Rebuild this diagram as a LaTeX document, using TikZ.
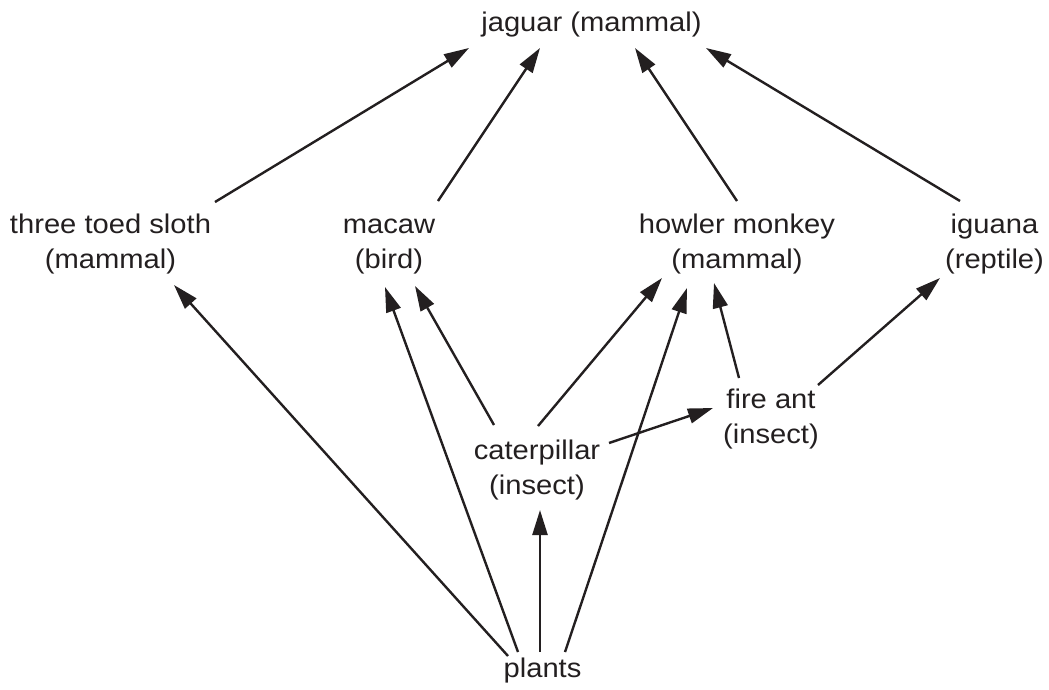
\documentclass[tikz,border=0pt]{standalone}
\usepackage{fontspec}
\setmainfont{Liberation Sans}[FakeStretch=1.08]
\usetikzlibrary{arrows.meta,calc}
\definecolor{ink}{RGB}{35,31,32}
\tikzset{
  lbl/.style={inner sep=0pt, align=center, text=ink, font=\fontsize{27}{35}\selectfont},
  arr/.style={draw=ink, line width=2.4pt, -{Triangle[length=25pt,width=15pt]}}
}
\begin{document}
\begin{tikzpicture}[x=1pt,y=-1pt]
\useasboundingbox (0,0) rectangle (1049,689);
\node[lbl] (jag) at (591.5,24) {\strut jaguar (mammal)};
\node[lbl] (sloth) at (110.5,243.5) {\strut three toed sloth\\\strut (mammal)};
\node[lbl] (macaw) at (389,243.5) {\strut macaw\\\strut (bird)};
\node[lbl] (howler) at (737,243.5) {\strut howler monkey\\\strut (mammal)};
\node[lbl] (iguana) at (994.5,243.5) {\strut iguana\\\strut (reptile)};
\node[lbl] (cat) at (537,469.5) {\strut caterpillar\\\strut (insect)};
\node[lbl] (ant) at (771,418.5) {\strut fire ant\\\strut (insect)};
\node[lbl] (plants) at (542.5,670) {\strut plants};

\draw[arr] ($(sloth)+(104.5,-41.5)$) -- ($(jag)+(-122.5,24)$);
\draw[arr] ($(macaw)+(49,-42.5)$) -- ($(jag)+(-51.5,24)$);
\draw[arr] ($(howler)+(0,-42.5)$) -- ($(jag)+(43.5,24)$);
\draw[arr] ($(iguana)+(-34.5,-42.5)$) -- ($(jag)+(114.5,24)$);

\draw[arr] ($(plants)+(-34.5,-14)$) -- ($(sloth)+(63.5,41.5)$);
\draw[arr] ($(plants)+(-24.5,-18)$) -- ($(macaw)+(-4,43.5)$);
\draw[arr] ($(plants)+(-2.5,-18)$) -- ($(cat)+(3,40.5)$);
\draw[arr] ($(plants)+(22.5,-18)$) -- ($(howler)+(-50,44.5)$);

\draw[arr] ($(cat)+(-43,-44.5)$) -- ($(macaw)+(26,42.5)$);
\draw[arr] ($(cat)+(1,-43.5)$) -- ($(howler)+(-75,34.5)$);
\draw[arr] ($(cat)+(72,-26.5)$) -- ($(ant)+(-58,-10.5)$);

\draw[arr] ($(ant)+(-32,-40.5)$) -- ($(howler)+(-23,39.5)$);
\draw[arr] ($(ant)+(47,-33.5)$) -- ($(iguana)+(-54.5,34.5)$);
\end{tikzpicture}
\end{document}
